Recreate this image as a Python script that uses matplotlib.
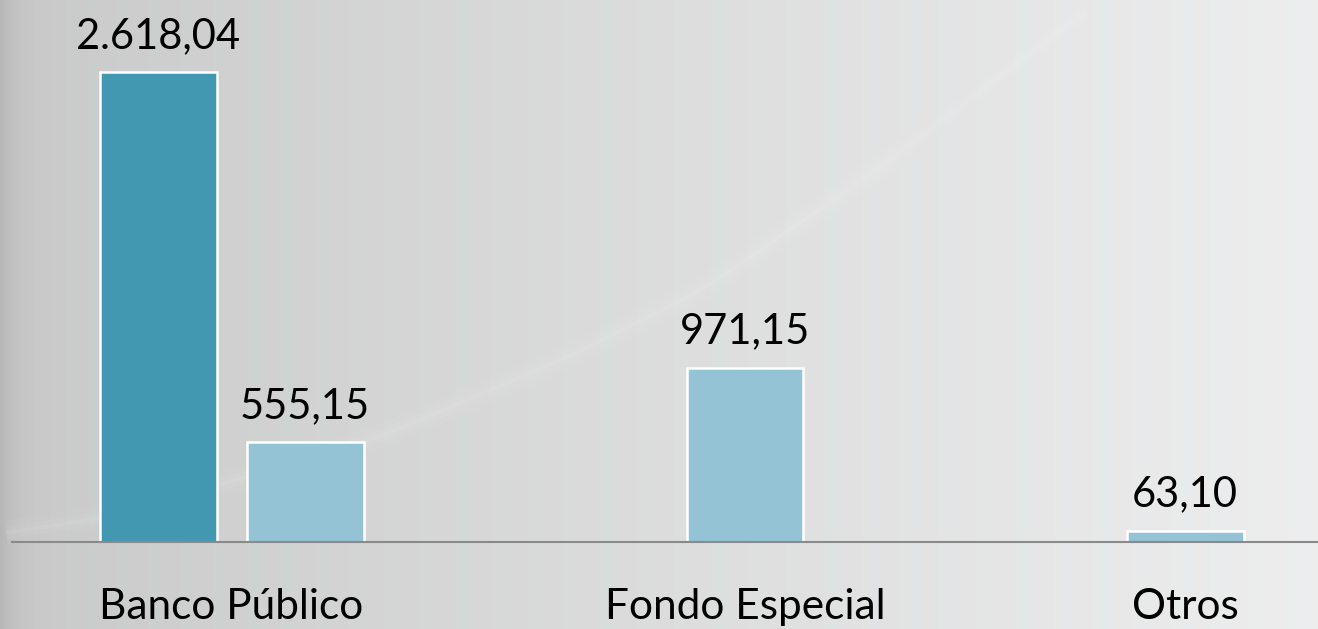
import numpy as np
import matplotlib
matplotlib.use("Agg")
import matplotlib.pyplot as plt

# ---- data ----
categories = ["Banco Público", "Fondo Especial", "Otros"]
series_dark = [2618.04, None, None]
series_light = [555.15, 971.15, 63.10]
dark_labels = ["2.618,04", None, None]
light_labels = ["555,15", "971,15", "63,10"]

# ---- style ----
dark_color = "#4298b1"
light_color = "#93c3d5"
font = ["Lato", "DejaVu Sans"]
plt.rcParams["font.family"] = font

W, H = 1318, 629
PT = 72 / 100  # points per pixel
fig = plt.figure(figsize=(W / 100, H / 100), dpi=100)

# background gradient
bg = fig.add_axes([0, 0, 1, 1], zorder=0)
bg.set_axis_off()
xs = np.linspace(0, 1, 800)
ys = np.linspace(0, 1, 300)
X, Y = np.meshgrid(xs, ys)
base = 0.79 + 0.145 * np.clip(X, 0, 1) ** 0.9
edge = -0.07 * np.exp(-X / 0.012)
img = np.clip(base + edge, 0, 1)
rgb = np.dstack([img * 0.995, img * 0.997, img * 1.0])
bg.imshow(rgb, extent=[0, 1, 0, 1], aspect="auto", origin="lower")

# faint curved streak (decoration)
px = np.array([0.0, 0.076, 0.278, 0.431, 0.533, 0.668, 0.835])
py = np.array([0.151, 0.176, 0.296, 0.432, 0.539, 0.734, 1.0])
tt = np.linspace(0, 1, len(px))
tf = np.linspace(0, 1, 300)
sx = np.interp(tf, tt, px)
sy = np.interp(tf, tt, py)
k = np.ones(25) / 25
sxs = np.convolve(np.pad(sx, 12, mode="edge"), k, mode="valid")
sys_ = np.convolve(np.pad(sy, 12, mode="edge"), k, mode="valid")
for lw, a in [(18, 0.035), (9, 0.05), (3, 0.07)]:
    bg.plot(sxs, sys_, color="white", lw=lw, alpha=a, solid_capstyle="butt")
bg.set_xlim(0, 1)
bg.set_ylim(0, 1)

# main axes
left_px, base_px, top_px, bar_top_px = 12, 542, 0, 72
ax = fig.add_axes([left_px / W, (H - base_px) / H, (W - left_px) / W,
                   (base_px - top_px) / H], zorder=1)
ax.patch.set_alpha(0)

spacing = 1.0
bar_w = 117 / 440
dark_off = -147 / 440
x_light = np.arange(len(categories)) * spacing
x_dark = x_light + dark_off

ymax = max(series_dark[0], max(series_light)) * (base_px - top_px) / (base_px - bar_top_px)

val_fs = 30
cat_fs = 30.5
for i in range(len(categories)):
    for xs_, vals, labs, col in [(x_dark, series_dark, dark_labels, dark_color),
                                 (x_light, series_light, light_labels, light_color)]:
        if vals[i] is None:
            continue
        ax.bar(xs_[i], vals[i], width=bar_w, color=col,
               edgecolor="white", linewidth=1.8, zorder=2)
        ax.annotate(labs[i], (xs_[i], vals[i]), xytext=(0, 24 * PT),
                    textcoords="offset points", ha="center", va="baseline",
                    fontsize=val_fs, color="black")

# category labels at centre of the bars present
for i, cat in enumerate(categories):
    pos = [x_light[i]]
    if series_dark[i] is not None:
        pos.append(x_dark[i])
    ax.annotate(cat, (np.mean(pos), 0), xycoords=("data", "axes fraction"),
                xytext=(0, -77 * PT), textcoords="offset points",
                ha="center", va="baseline", fontsize=cat_fs, color="black",
                annotation_clip=False)

ax.set_xticks([])
ax.set_yticks([])
ax.set_xlim((left_px - 305) / 440, (W - 305) / 440)
ax.set_ylim(0, ymax)
for s in ["top", "right", "left"]:
    ax.spines[s].set_visible(False)
ax.spines["bottom"].set_color("#8a8a8a")
ax.spines["bottom"].set_linewidth(1.5)
ax.spines["bottom"].set_zorder(3)

fig.savefig("out.png", dpi=100)
